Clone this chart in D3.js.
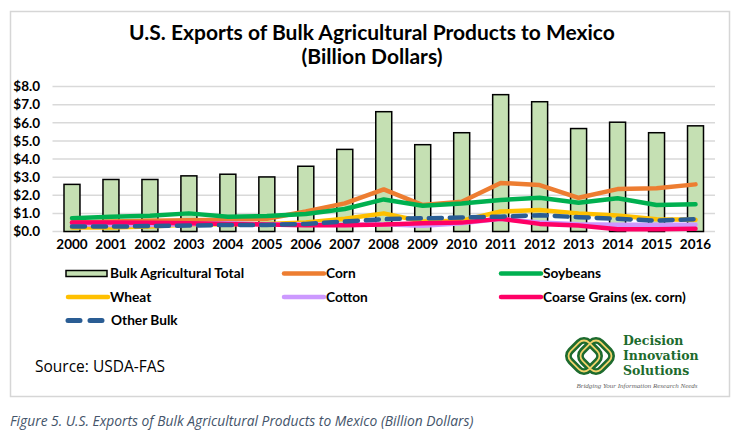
<!DOCTYPE html>
<html>
<head>
<meta charset="utf-8">
<script src="https://cdn.jsdelivr.net/npm/d3@7"></script>
<style>
  html, body { margin: 0; padding: 0; background: #fff; }
  svg { display: block; }
</style>
</head>
<body>
<svg id="chart" width="740" height="438"></svg>
<script>
const years = ["2000","2001","2002","2003","2004","2005","2006","2007","2008","2009","2010","2011","2012","2013","2014","2015","2016"];
const bulkTotal   = [2.60, 2.87, 2.87, 3.07, 3.16, 3.01, 3.60, 4.53, 6.61, 4.79, 5.45, 7.55, 7.16, 5.68, 6.03, 5.45, 5.83];
const corn        = [0.50, 0.55, 0.60, 0.62, 0.65, 0.70, 1.10, 1.55, 2.32, 1.46, 1.64, 2.68, 2.56, 1.86, 2.34, 2.38, 2.60];
const soybeans    = [0.73, 0.82, 0.87, 1.00, 0.82, 0.85, 0.97, 1.24, 1.77, 1.42, 1.55, 1.74, 1.86, 1.59, 1.83, 1.46, 1.50];
const wheat       = [0.22, 0.22, 0.28, 0.38, 0.40, 0.42, 0.50, 0.70, 1.00, 0.55, 0.60, 1.10, 1.19, 1.00, 0.88, 0.68, 0.65];
const cotton      = [0.40, 0.36, 0.36, 0.40, 0.45, 0.40, 0.40, 0.36, 0.40, 0.32, 0.45, 0.70, 0.50, 0.40, 0.37, 0.37, 0.37];
const coarseGrains= [0.49, 0.50, 0.48, 0.45, 0.42, 0.38, 0.35, 0.35, 0.38, 0.46, 0.49, 0.70, 0.42, 0.33, 0.13, 0.13, 0.15];
const otherBulk   = [0.27, 0.27, 0.30, 0.33, 0.36, 0.36, 0.42, 0.55, 0.68, 0.73, 0.77, 0.82, 0.90, 0.79, 0.70, 0.60, 0.68];
const yTicks = [0, 1, 2, 3, 4, 5, 6, 7, 8];

const lineSeries = [
  { name: "Corn", values: corn, color: "#ed7d31", dash: null },
  { name: "Soybeans", values: soybeans, color: "#00b050", dash: null },
  { name: "Wheat", values: wheat, color: "#ffc000", dash: null },
  { name: "Cotton", values: cotton, color: "#cc99ff", dash: null },
  { name: "Coarse Grains (ex. corn)", values: coarseGrains, color: "#ff0066", dash: null },
  { name: "Other Bulk", values: otherBulk, color: "#2a5d94", dash: "13 8" }
];

const svg = d3.select("#chart");

// outer frame
svg.append("rect").attr("x", 10.5).attr("y", 11.5).attr("width", 719).attr("height", 385)
  .attr("fill", "#fff").attr("stroke", "#d6d6d6").attr("stroke-width", 1.5);

// title
const title = svg.append("text").attr("text-anchor", "middle")
  .attr("font-family", "Lato, 'Open Sans', sans-serif").attr("font-weight", "bold")
  .attr("font-size", 21).attr("fill", "#000");
title.append("tspan").attr("x", 372).attr("y", 40).text("U.S. Exports of Bulk Agricultural Products to Mexico");
title.append("tspan").attr("x", 372).attr("y", 64).text("(Billion Dollars)");

const x = d3.scaleBand().domain(years).range([52.5, 715]).paddingInner(0.59).paddingOuter(0.295);
const y = d3.scaleLinear().domain([0, 8]).range([231.5, 86.5]);

// gridlines
svg.append("g").selectAll("line").data(yTicks).join("line")
  .attr("x1", 52.5).attr("x2", 715)
  .attr("y1", d => y(d)).attr("y2", d => y(d))
  .attr("stroke", "#d9d9d9").attr("stroke-width", 1.5);

// y axis
const yAxis = svg.append("g").attr("transform", "translate(40,0)")
  .call(d3.axisLeft(y).tickValues(yTicks).tickFormat(d3.format("$.1f")).tickSize(0).tickPadding(0));
yAxis.select(".domain").remove();
yAxis.selectAll("text").attr("font-family", "Lato, sans-serif").attr("font-weight", "bold")
  .attr("font-size", 13.5).attr("fill", "#000");

// x axis
const xAxis = svg.append("g").attr("transform", "translate(0,239)")
  .call(d3.axisBottom(x).tickSize(0).tickPadding(0));
xAxis.select(".domain").remove();
xAxis.selectAll("text").attr("font-family", "Lato, sans-serif").attr("font-weight", "bold")
  .attr("font-size", 13.5).attr("fill", "#000").attr("dy", "0.71em");

// bars
svg.append("g").selectAll("rect").data(years).join("rect")
  .attr("x", d => x(d)).attr("width", x.bandwidth())
  .attr("y", (d, i) => y(bulkTotal[i])).attr("height", (d, i) => y(0) - y(bulkTotal[i]))
  .attr("fill", "#c5e0b3").attr("stroke", "#000").attr("stroke-width", 1.5);

// lines
const line = d3.line().x((d, i) => x(years[i]) + x.bandwidth() / 2).y(d => y(d));
svg.append("g").selectAll("path").data(lineSeries).join("path")
  .attr("d", s => line(s.values))
  .attr("fill", "none").attr("stroke", s => s.color).attr("stroke-width", 4.5)
  .attr("stroke-linejoin", "round").attr("stroke-linecap", "round")
  .attr("stroke-dasharray", s => s.dash);

// legend
const legendItems = [
  { name: "Bulk Agricultural Total", type: "bar", col: 0, row: 0 },
  { name: "Corn", type: "line", s: lineSeries[0], col: 1, row: 0 },
  { name: "Soybeans", type: "line", s: lineSeries[1], col: 2, row: 0 },
  { name: "Wheat", type: "line", s: lineSeries[2], col: 0, row: 1 },
  { name: "Cotton", type: "line", s: lineSeries[3], col: 1, row: 1 },
  { name: "Coarse Grains (ex. corn)", type: "line", s: lineSeries[4], col: 2, row: 1 },
  { name: "Other Bulk", type: "line", s: lineSeries[5], col: 0, row: 2 }
];
const colX = [66, 282, 499];
const rowY = [273.5, 297, 320.5];
const lg = svg.append("g");
legendItems.forEach(it => {
  const gx = colX[it.col], gy = rowY[it.row];
  if (it.type === "bar") {
    lg.append("rect").attr("x", gx).attr("y", gy - 3).attr("width", 41).attr("height", 6)
      .attr("fill", "#c5e0b3").attr("stroke", "#000").attr("stroke-width", 1.5);
  } else if (it.s.dash) {
    lg.append("line").attr("x1", gx + 2).attr("x2", gx + 40).attr("y1", gy).attr("y2", gy)
      .attr("stroke", it.s.color).attr("stroke-width", 5).attr("stroke-linecap", "round")
      .attr("stroke-dasharray", "12 10");
  } else {
    lg.append("line").attr("x1", gx + 2).attr("x2", gx + 42).attr("y1", gy).attr("y2", gy)
      .attr("stroke", it.s.color).attr("stroke-width", 4.5).attr("stroke-linecap", "round");
  }
  lg.append("text").attr("x", gx + (it.s && it.s.dash ? 45 : 44)).attr("y", gy).attr("dy", "0.35em")
    .attr("font-family", "Lato, sans-serif").attr("font-weight", "bold").attr("font-size", 13.7)
    .attr("fill", "#000").text(it.name);
});

// source
svg.append("text").attr("x", 35).attr("y", 372).attr("font-family", "'Open Sans', sans-serif")
  .attr("font-size", 15.5).attr("fill", "#000").text("Source: USDA-FAS");

// logo
const logo = svg.append("g");
const knot = [
  { cx: 584, cy: 356 }, { cx: 596, cy: 356 }
];
knot.forEach(k => {
  logo.append("rect").attr("x", k.cx - 13).attr("y", k.cy - 13).attr("width", 26).attr("height", 26)
    .attr("rx", 7).attr("transform", `rotate(45 ${k.cx} ${k.cy})`)
    .attr("fill", "none").attr("stroke", "#1d6b2e").attr("stroke-width", 7);
});
knot.forEach(k => {
  logo.append("rect").attr("x", k.cx - 13).attr("y", k.cy - 13).attr("width", 26).attr("height", 26)
    .attr("rx", 7).attr("transform", `rotate(45 ${k.cx} ${k.cy})`)
    .attr("fill", "none").attr("stroke", "#f2d36b").attr("stroke-width", 1.8);
});
const logoText = ["Decision", "Innovation", "Solutions"];
logo.selectAll("text.lt").data(logoText).join("text").attr("class", "lt")
  .attr("x", 623).attr("y", (d, i) => 345 + i * 15)
  .attr("font-family", "'DejaVu Serif', 'Liberation Serif', serif").attr("font-weight", "bold")
  .attr("font-size", 12.5).attr("fill", "#1d6b2e").text(d => d);
logo.append("text").attr("x", 637).attr("y", 388).attr("text-anchor", "middle")
  .attr("font-family", "'Liberation Serif', serif").attr("font-style", "italic")
  .attr("font-size", 7).attr("fill", "#666").text("Bridging Your Information Research Needs");

// caption
svg.append("text").attr("x", 10).attr("y", 426).attr("font-family", "'Open Sans', sans-serif")
  .attr("font-style", "italic").attr("font-size", 13.8).attr("fill", "#44546a")
  .text("Figure 5. U.S. Exports of Bulk Agricultural Products to Mexico (Billion Dollars)");
</script>
</body>
</html>
